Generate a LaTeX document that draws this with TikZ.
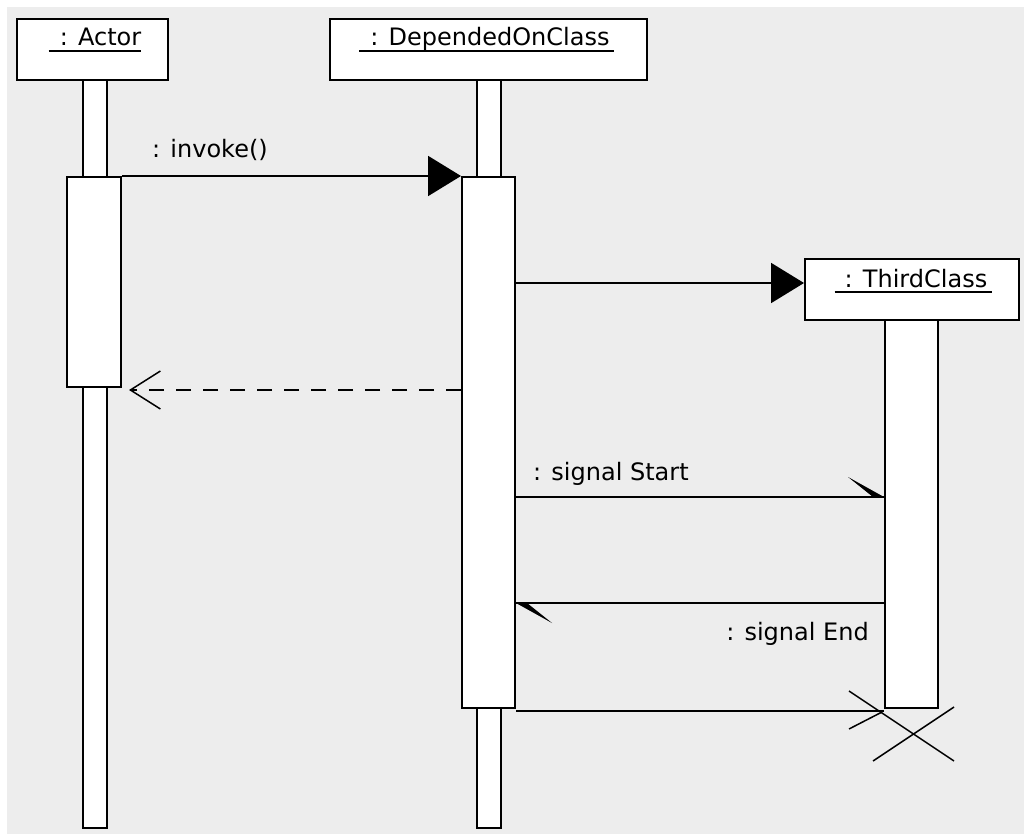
\documentclass[tikz,border=0pt]{standalone}
\usepackage{fontspec}
\setmainfont{DejaVu Sans}
\usetikzlibrary{arrows.meta,calc}
\definecolor{bggrey}{RGB}{237,237,237}
\tikzset{
  box/.style={draw, fill=white, line width=2pt, inner sep=0pt, rectangle},
  lbl/.style={inner sep=0pt, font=\fontsize{24}{28}\selectfont},
  uline/.style={line width=1.6pt},
  msg/.style={line width=2pt},
  call/.style={msg, -{Triangle[length=33pt,width=40pt]}},
  reply/.style={line width=2pt, dash pattern=on 15pt off 12pt,
    -{Straight Barb[length=30pt,width=38pt,line width=1.5pt]}},
  half/.style={fill=black},
  cross/.style={line width=1.5pt}
}
\begin{document}
\begin{tikzpicture}[x=1pt,y=-1pt]
\useasboundingbox (0,0) rectangle (1024,834);
\fill[white] (0,0) rectangle (1024,834);
\fill[bggrey] (7,7) rectangle (1024,834);

% lifelines
\node[box, minimum width=24pt, minimum height=748pt] (actorLife) at (95,454) {};
\node[box, minimum width=24pt, minimum height=748pt] (depLife) at (489,454) {};
% activations
\node[box, minimum width=54pt, minimum height=210pt] (actorAct) at (94,282) {};
\node[box, minimum width=53pt, minimum height=531pt] (depAct) at (488.5,442.5) {};
\node[box, minimum width=53pt, minimum height=388pt] (thirdAct) at (911.5,514) {};
% objects
\node[box, minimum width=151pt, minimum height=61pt] (actorBox) at (92.5,49.5) {};
\node[box, minimum width=317pt, minimum height=61pt] (depBox) at (488.5,49.5) {};
\node[box, minimum width=214pt, minimum height=61pt] (thirdBox) at (912,289.5) {};

% object names
\node[lbl, anchor=base] (actorName) at (100.5,46) {: Actor};
\draw[uline] ([xshift=-11pt,yshift=-5pt]actorName.base west) -- ([yshift=-5pt]actorName.base east);
\node[lbl, anchor=base] (depName) at (490,46) {: DependedOnClass};
\draw[uline] ([xshift=-11pt,yshift=-5pt]depName.base west) -- ([xshift=4pt,yshift=-5pt]depName.base east);
\node[lbl, anchor=base] (thirdName) at (916,287) {: ThirdClass};
\draw[uline] ([xshift=-10pt,yshift=-5pt]thirdName.base west) -- ([xshift=4pt,yshift=-5pt]thirdName.base east);

% message levels
\coordinate (mCr) at (0,283);
\coordinate (mRet) at (0,390);
\coordinate (mS) at (0,497);
\coordinate (mE) at (0,603);
\coordinate (mD) at (0,711);

% invoke
\draw[call] (actorAct.north east) -- (depAct.north west);
\node[lbl, anchor=base] (invLbl) at (210,158) {: invoke()};

% create
\draw[call] (depAct.east |- mCr) -- (thirdBox.west |- mCr);

% return
\coordinate (retEnd) at ($(actorAct.east |- mRet)+(7,0)$);
\draw[reply] (depAct.west |- mRet) -- (retEnd);

% signal Start
\draw[msg] (depAct.east |- mS) -- (thirdAct.west |- mS);
\fill[half] ($(thirdAct.west |- mS)+(-36,-20)$) -- (thirdAct.west |- mS) -- ++(-11,0) -- cycle;
\node[lbl, anchor=base west] (ssLbl) at (533,480) {: signal Start};

% signal End
\draw[msg] (thirdAct.west |- mE) -- (depAct.east |- mE);
\fill[half] ($(depAct.east |- mE)+(36,20)$) -- (depAct.east |- mE) -- ++(11,0) -- cycle;
\node[lbl, anchor=base east] (seLbl) at (869,640) {: signal End};

% destroy
\coordinate (dEnd) at (thirdAct.west |- mD);
\draw[msg] (depAct.east |- mD) -- (dEnd);
\draw[cross] ($(dEnd)+(-35,18)$) -- ($(dEnd)+(-2,1)$);
\draw[cross] ($(dEnd)+(-35,-20)$) -- ($(dEnd)+(70,50)$);
\draw[cross] ($(dEnd)+(-11,50)$) -- ($(dEnd)+(70,-4)$);
\end{tikzpicture}
\end{document}
